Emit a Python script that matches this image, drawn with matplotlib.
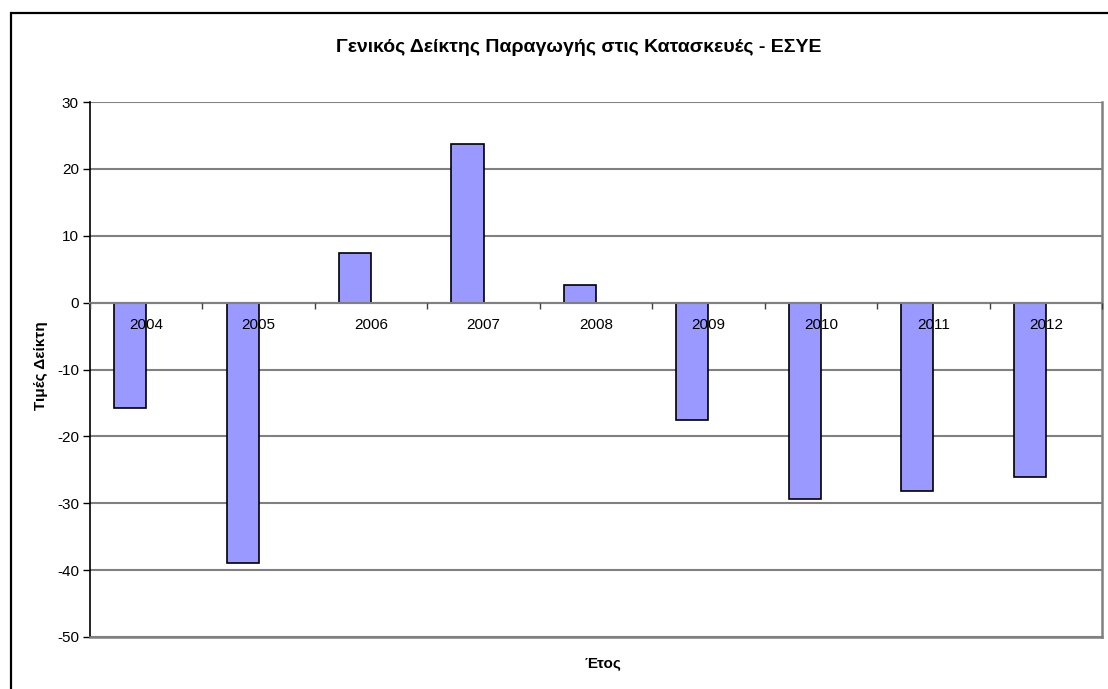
import matplotlib
matplotlib.use("Agg")
import matplotlib.pyplot as plt
import numpy as np
from matplotlib.patches import Rectangle

years = ["2004", "2005", "2006", "2007", "2008", "2009", "2010", "2011", "2012"]
values = [-15.8, -38.9, 7.4, 23.7, 2.7, -17.6, -29.3, -28.1, -26.1]
yticks = [30, 20, 10, 0, -10, -20, -30, -40, -50]

title = "Γενικός Δείκτης Παραγωγής στις Κατασκευές - ΕΣΥΕ"
xlabel = "Έτος"
ylabel = "Τιμές Δείκτη"

plt.rcParams['font.family'] = ['Liberation Sans', 'DejaVu Sans']

fig = plt.figure(figsize=(11.08, 6.89), dpi=100)
fig.patch.set_facecolor("white")
ax = fig.add_axes([90/1108, 1-637/689, (1102-90)/1108, (637-102)/689])

x = np.arange(len(years))
bw = 1/3.5
ax.bar(x - bw/2, values, width=bw, color="#9999FF", edgecolor="black",
       linewidth=1.2, zorder=2)

ax.set_xlim(-0.5, len(years) - 0.5)
ax.set_ylim(-50, 30)
ax.set_yticks(yticks)
ax.set_yticklabels([str(v) for v in yticks], fontsize=11)
ax.tick_params(axis='y', direction='out', length=5, width=1, color='black', pad=3)

ax.grid(axis='y', color='#808080', linewidth=1.5)
ax.set_axisbelow(True)

# category axis at zero
ax.spines['bottom'].set_position(('data', 0))
ax.spines['bottom'].set_color('#808080')
ax.spines['bottom'].set_linewidth(1.5)
ax.set_xticks(np.arange(len(years) + 1) - 0.5)
ax.set_xticklabels([])
ax.set_xticks(x, minor=True)
ax.set_xticklabels(years, minor=True, fontsize=11)
ax.tick_params(axis='x', which='major', direction='out', length=4, width=1, color='#404040')
ax.tick_params(axis='x', which='minor', length=0, pad=11)
ax.xaxis.set_zorder(4)

ax.spines['left'].set_color('black')
ax.spines['left'].set_linewidth(1.2)
ax.spines['top'].set_visible(False)
ax.spines['right'].set_color('#808080')
ax.spines['right'].set_linewidth(1.8)
ax.axhline(-50, color='#808080', linewidth=1.8, clip_on=False, zorder=3)

fig.text(579/1108, 1-48/689, title, fontsize=14, fontweight='bold',
         ha='center', va='center')
fig.text(603/1108, 1-663/689, xlabel, fontsize=11, fontweight='bold',
         ha='center', va='center')
fig.text(41/1108, 1-366/689, ylabel, fontsize=11, fontweight='bold',
         ha='center', va='center', rotation=90)

# chart frame
fig.add_artist(Rectangle((11/1108, -0.2), 1.2, 1-13/689 + 0.2,
                         transform=fig.transFigure, fill=False,
                         edgecolor='black', linewidth=1.6, clip_on=False))

fig.savefig("out.png", dpi=100)
